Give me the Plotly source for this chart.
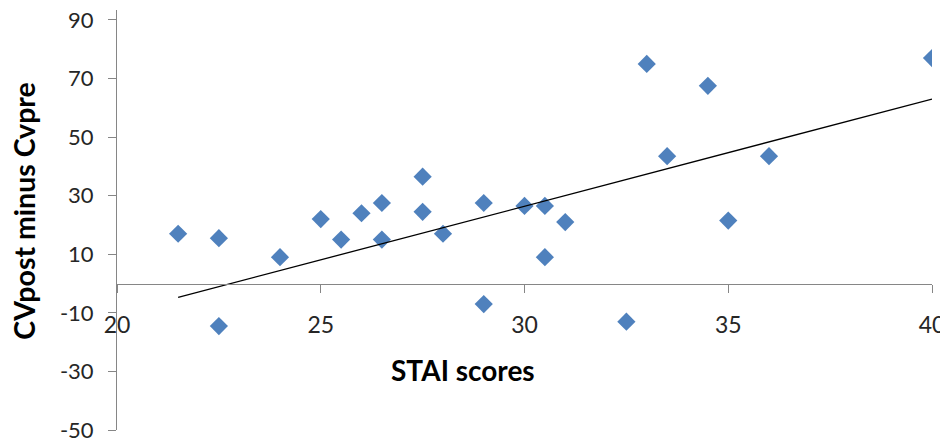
import plotly.graph_objects as go

# STAI scores (x) and CVpost minus CVpre (y)
stai_scores = [21.5, 22.5, 22.5, 24.0, 25.0, 25.5, 26.0, 26.5, 26.5, 27.5, 27.5, 28.0, 29.0,
               29.0, 30.0, 30.5, 30.5, 31.0, 32.5, 33.0, 33.5, 34.5, 35.0, 36.0, 40.0]
cv_diff = [17.0, 15.5, -14.5, 9.0, 22.0, 15.0, 24.0, 27.5, 15.0, 36.5, 24.5, 17.0, 27.5,
           -7.0, 26.5, 26.5, 9.0, 21.0, -13.0, 75.0, 43.5, 67.5, 21.5, 43.5, 77.0]

# linear trend line as shown in the chart (slope / intercept)
trend_slope = 3.66
trend_intercept = -83.4

x_ticks = [20, 25, 30, 35, 40]
y_ticks = [-50, -30, -10, 10, 30, 50, 70, 90]
x_range = [20, 40]
y_range = [-50, 93.4]

trend_x = [min(stai_scores), max(stai_scores)]
trend_y = [trend_slope * v + trend_intercept for v in trend_x]

FONT = "Lato"
AXIS_COLOR = "#868686"

fig = go.Figure()
fig.add_trace(go.Scatter(
    x=stai_scores, y=cv_diff, mode="markers",
    marker=dict(symbol="diamond", size=14, color="#4F81BD", line=dict(width=0)),
    showlegend=False, hoverinfo="x+y",
))
fig.add_trace(go.Scatter(
    x=trend_x, y=trend_y, mode="lines",
    line=dict(color="black", width=1.3),
    showlegend=False, hoverinfo="skip",
))

zero_pos = (0 - y_range[0]) / (y_range[1] - y_range[0])

# the page body adds an 8px margin, so the figure is 8px smaller on each axis
fig.update_layout(
    width=940, height=439,
    margin=dict(l=109, r=16, t=2, b=17, autoexpand=False),
    paper_bgcolor="white", plot_bgcolor="white",
    font=dict(family=FONT, color="#262626"),
    xaxis=dict(
        range=x_range, tickvals=x_ticks, ticktext=[str(v) for v in x_ticks],
        showgrid=False, zeroline=False, automargin=False,
        showline=True, linecolor=AXIS_COLOR, linewidth=1,
        ticks="outside", ticklen=8, tickcolor=AXIS_COLOR,
        anchor="free", position=zero_pos,
        ticklabelstandoff=13, ticklabeloverflow="allow",
        tickfont=dict(family=FONT, size=23, color="#262626"),
    ),
    yaxis=dict(
        range=y_range, tickvals=y_ticks, ticktext=[str(v) for v in y_ticks],
        showgrid=False, zeroline=False, automargin=False,
        showline=True, linecolor=AXIS_COLOR, linewidth=1,
        ticks="outside", ticklen=8, tickcolor=AXIS_COLOR,
        ticklabelstandoff=10, ticklabeloverflow="allow",
        tickfont=dict(family=FONT, size=22, color="#262626"),
    ),
    annotations=[
        dict(text="<b>STAI scores</b>", xref="paper", yref="paper",
             x=0.4245, y=0.1429, xanchor="center", yanchor="middle",
             showarrow=False, font=dict(family=FONT, size=28, color="black")),
        dict(text="<b>CVpost minus Cvpre</b>", xref="paper", yref="paper",
             x=-0.1135, y=0.521, xanchor="center", yanchor="middle", textangle=-90,
             showarrow=False, font=dict(family=FONT, size=28.5, color="black")),
    ],
)

fig.write_html("out.html")
